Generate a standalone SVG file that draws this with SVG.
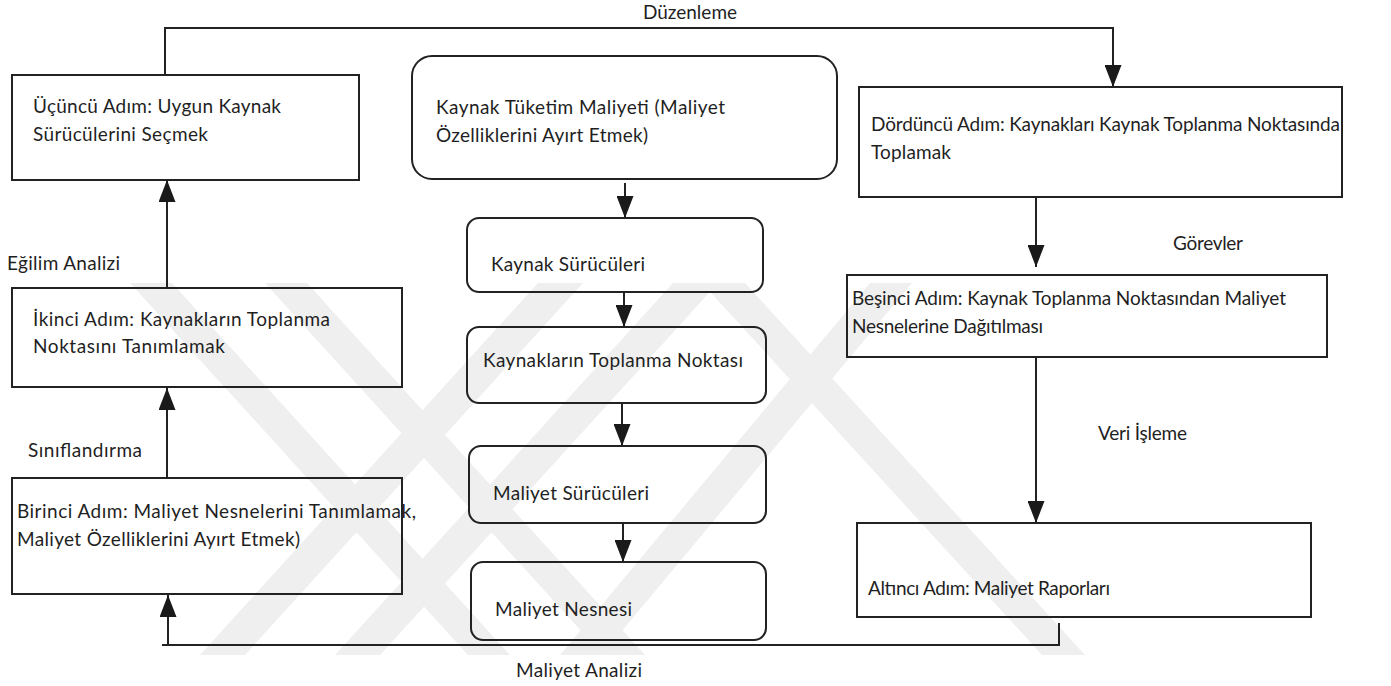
<svg xmlns="http://www.w3.org/2000/svg" width="1391" height="686" viewBox="0 0 1391 686">
  <defs>
    <marker id="arrow" viewBox="0 0 22 17" refX="22" refY="8.5" markerWidth="22" markerHeight="17" markerUnits="userSpaceOnUse" orient="auto">
      <path d="M0,0 L22,8.5 L0,17 Z" fill="#1a1a1a"/>
    </marker>
    <style>
      .box { fill: none; stroke: #222; stroke-width: 2; }
      .wire { fill: none; stroke: #222; stroke-width: 2; }
      .lbl { font-family: Lato, "Liberation Sans", sans-serif; font-size: 19px; fill: #1f1f1f; }
      .mark { fill: #efefef; }
    </style>
  </defs>
  <rect width="1391" height="686" fill="#fff"/>

  <!-- faint background emblem -->
  <g id="emblem">
    <polygon class="mark" points="130,283 172,283 510,655 468,655"/>
    <polygon class="mark" points="265,283 307,283 645,655 603,655"/>
    <polygon class="mark" points="538,283 583,283 245,655 200,655"/>
    <polygon class="mark" points="673,283 718,283 380,655 335,655"/>
    <polygon class="mark" points="870,283 912,283 602,655 560,655"/>
    <polygon class="mark" points="702,283 745,283 1085,655 1042,655"/>
  </g>

  <!-- connectors -->
  <g id="connectors">
    <path class="wire" d="M165,75 V28 H1113 V87" marker-end="url(#arrow)"/>
    <path class="wire" d="M167,288 V180" marker-end="url(#arrow)"/>
    <path class="wire" d="M167,478 V388" marker-end="url(#arrow)"/>
    <path class="wire" d="M1059,623 V645 H162"/>
    <path class="wire" d="M168,645 V595" marker-end="url(#arrow)"/>
    <path class="wire" d="M625,183 V218" marker-end="url(#arrow)"/>
    <path class="wire" d="M624,292 V327" marker-end="url(#arrow)"/>
    <path class="wire" d="M622,403 V446" marker-end="url(#arrow)"/>
    <path class="wire" d="M623,523 V562" marker-end="url(#arrow)"/>
    <path class="wire" d="M1036,197 V267" marker-end="url(#arrow)"/>
    <path class="wire" d="M1036,357 V523" marker-end="url(#arrow)"/>
  </g>

  <!-- connector labels -->
  <g id="edge-labels">
    <text class="lbl" x="690" y="19" text-anchor="middle">Düzenleme</text>
    <text class="lbl" x="7" y="270" textLength="113">Eğilim Analizi</text>
    <text class="lbl" x="28" y="457" textLength="114">Sınıflandırma</text>
    <text class="lbl" x="1173" y="250" textLength="70">Görevler</text>
    <text class="lbl" x="1098" y="440" textLength="89">Veri İşleme</text>
    <text class="lbl" x="516" y="677" textLength="126">Maliyet Analizi</text>
  </g>

  <!-- left column -->
  <g id="step3">
    <rect class="box" x="12" y="75" width="347" height="105"/>
    <text class="lbl" x="33" y="113" textLength="248">Üçüncü Adım: Uygun Kaynak</text>
    <text class="lbl" x="33" y="141" textLength="175">Sürücülerini Seçmek</text>
  </g>
  <g id="step2">
    <rect class="box" x="12" y="288" width="390" height="99"/>
    <text class="lbl" x="33" y="326" textLength="297">İkinci Adım: Kaynakların Toplanma</text>
    <text class="lbl" x="33" y="353" textLength="192">Noktasını Tanımlamak</text>
  </g>
  <g id="step1">
    <rect class="box" x="12" y="478" width="390" height="116"/>
    <text class="lbl" x="17" y="518" textLength="399">Birinci Adım: Maliyet Nesnelerini Tanımlamak,</text>
    <text class="lbl" x="17" y="546" textLength="283">Maliyet Özelliklerini Ayırt Etmek)</text>
  </g>

  <!-- middle column -->
  <g id="consumption">
    <rect class="box" x="412" y="56" width="425" height="123" rx="20"/>
    <text class="lbl" x="436" y="114" textLength="289">Kaynak Tüketim Maliyeti (Maliyet</text>
    <text class="lbl" x="436" y="142" textLength="212">Özelliklerini Ayırt Etmek)</text>
  </g>
  <g id="resource-drivers">
    <rect class="box" x="467" y="218" width="296" height="74" rx="12"/>
    <text class="lbl" x="491" y="271" textLength="154">Kaynak Sürücüleri</text>
  </g>
  <g id="resource-pool">
    <rect class="box" x="467" y="327" width="299" height="76" rx="12"/>
    <text class="lbl" x="483" y="367" textLength="260">Kaynakların Toplanma Noktası</text>
  </g>
  <g id="cost-drivers">
    <rect class="box" x="469" y="446" width="297" height="77" rx="12"/>
    <text class="lbl" x="493" y="500" textLength="156">Maliyet Sürücüleri</text>
  </g>
  <g id="cost-object">
    <rect class="box" x="471" y="562" width="295" height="78" rx="12"/>
    <text class="lbl" x="495" y="616" textLength="137">Maliyet Nesnesi</text>
  </g>

  <!-- right column -->
  <g id="step4">
    <rect class="box" x="859" y="87" width="483" height="110"/>
    <text class="lbl" x="871" y="131" textLength="469">Dördüncü Adım: Kaynakları Kaynak Toplanma Noktasında</text>
    <text class="lbl" x="871" y="159" textLength="80">Toplamak</text>
  </g>
  <g id="step5">
    <rect class="box" x="847" y="275" width="480" height="82"/>
    <text class="lbl" x="852" y="305" textLength="434">Beşinci Adım: Kaynak Toplanma Noktasından Maliyet</text>
    <text class="lbl" x="852" y="333" textLength="191">Nesnelerine Dağıtılması</text>
  </g>
  <g id="step6">
    <rect class="box" x="857" y="523" width="454" height="94"/>
    <text class="lbl" x="868" y="595" textLength="242">Altıncı Adım: Maliyet Raporları</text>
  </g>
</svg>
